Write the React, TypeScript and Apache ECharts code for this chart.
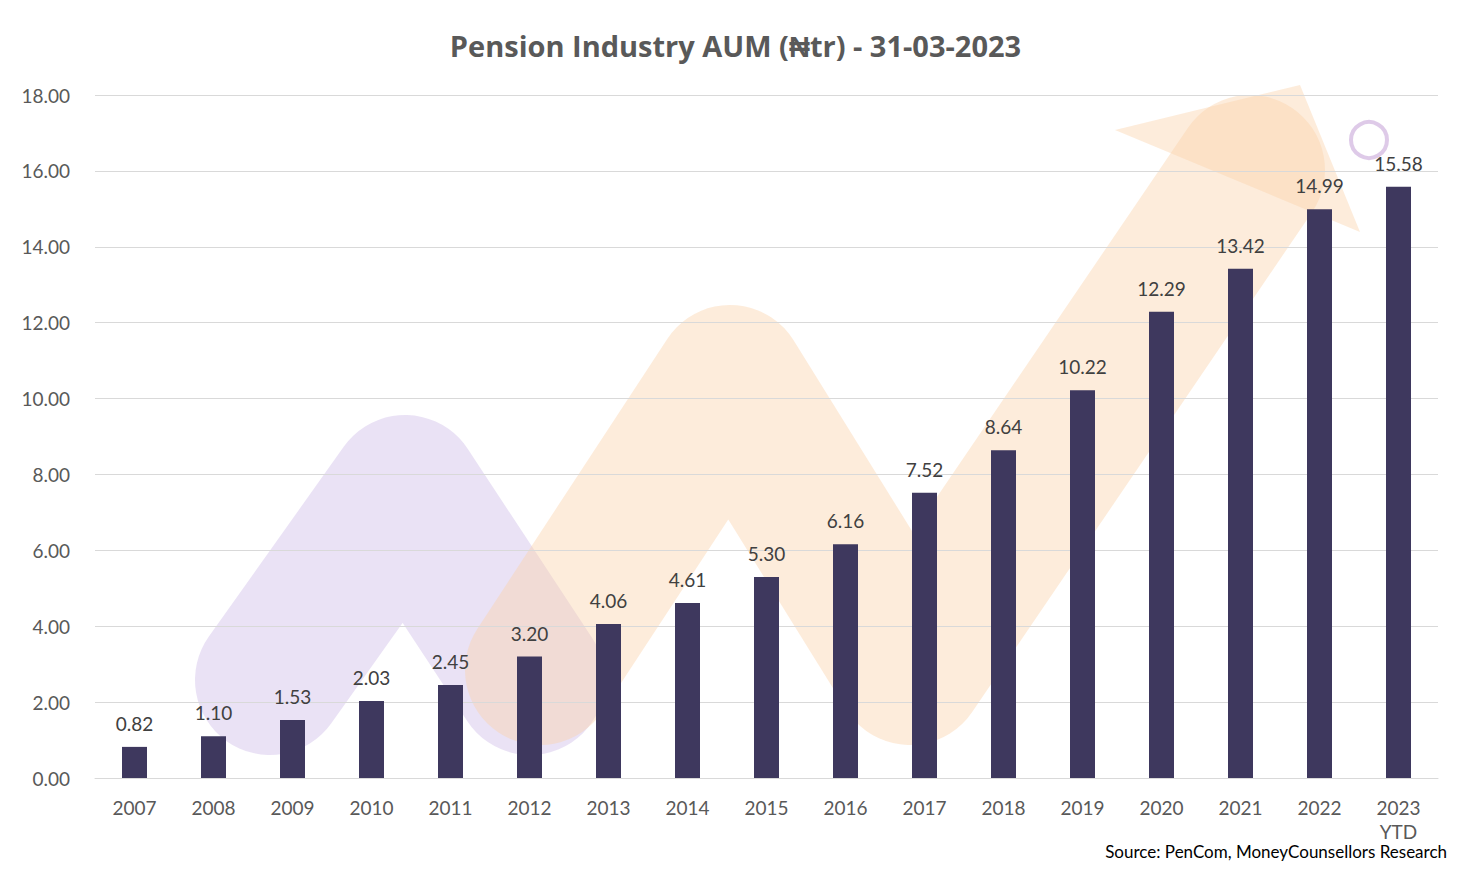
import { useEffect, useRef } from 'react';
import * as echarts from 'echarts';

const years = ['2007', '2008', '2009', '2010', '2011', '2012', '2013', '2014', '2015', '2016', '2017', '2018', '2019', '2020', '2021', '2022', '2023\nYTD'];
const aum = [0.82, 1.1, 1.53, 2.03, 2.45, 3.2, 4.06, 4.61, 5.3, 6.16, 7.52, 8.64, 10.22, 12.29, 13.42, 14.99, 15.58];

export default function App() {
  const ref = useRef<HTMLDivElement>(null);

  useEffect(() => {
    if (!ref.current) return;
    const chart = echarts.init(ref.current, undefined, { renderer: 'svg' });
    const font = 'Lato, "Open Sans", sans-serif';
    chart.setOption({
      animation: false,
      backgroundColor: '#fff',
      title: {
        text: 'Pension Industry AUM (₦tr) - 31-03-2023',
        left: 'center',
        top: 26,
        textStyle: { fontSize: 29, fontWeight: 'bold', color: '#595959', fontFamily: '"Open Sans", sans-serif' },
      },
      grid: { left: 95, right: 33, top: 95, bottom: 92 },
      xAxis: {
        type: 'category',
        data: years,
        axisTick: { show: false },
        axisLine: { lineStyle: { color: '#d9d9d9' } },
        axisLabel: { fontSize: 19, color: '#595959', fontFamily: font, margin: 17, lineHeight: 24, verticalAlign: 'top' },
      },
      yAxis: {
        type: 'value',
        min: 0,
        max: 18,
        interval: 2,
        axisLabel: { fontSize: 19, color: '#595959', fontFamily: font, margin: 25, formatter: (v: number) => v.toFixed(2) },
        splitLine: { lineStyle: { color: '#d9d9d9' } },
      },
      graphic: [
        {
          type: 'rect', x: 3, y: 3, z: -10, silent: true,
          shape: { width: 1463, height: 862 },
          style: { fill: 'none', stroke: '#d0d0d0', lineWidth: 2 },
        },
        {
          type: 'polyline', z: -5, silent: true,
          shape: { points: [[270, 680], [405, 490], [530, 680]] },
          style: { stroke: 'rgba(200,180,230,0.38)', lineWidth: 150, lineCap: 'round', lineJoin: 'round', fill: 'none' },
        },
        {
          type: 'polyline', z: -5, silent: true,
          shape: { points: [[540, 670], [730, 380], [910, 670], [1250, 170]] },
          style: { stroke: 'rgba(250,210,170,0.42)', lineWidth: 150, lineCap: 'round', lineJoin: 'round', fill: 'none' },
        },
        {
          type: 'polygon', z: -5, silent: true,
          shape: { points: [[1115, 130], [1300, 85], [1360, 232]] },
          style: { fill: 'rgba(250,210,170,0.42)' },
        },
        {
          type: 'circle', z: -4, silent: true,
          shape: { cx: 1369, cy: 140, r: 18 },
          style: { fill: 'none', stroke: 'rgba(190,150,210,0.5)', lineWidth: 4 },
        },
        {
          type: 'text', right: 24, top: 843,
          style: { text: 'Source: PenCom, MoneyCounsellors Research', fontSize: 17, fill: '#000', fontFamily: font },
        },
      ],
      series: [
        {
          type: 'bar',
          data: aum,
          barWidth: 25,
          itemStyle: { color: '#3e385e' },
          label: {
            show: true,
            position: 'top',
            distance: 14,
            fontSize: 19,
            color: '#404040',
            fontFamily: font,
            formatter: (p: any) => p.value.toFixed(2),
          },
        },
      ],
    });
    return () => chart.dispose();
  }, []);

  return <div ref={ref} style={{ width: 1471, height: 870, margin: -8 }} />;
}
